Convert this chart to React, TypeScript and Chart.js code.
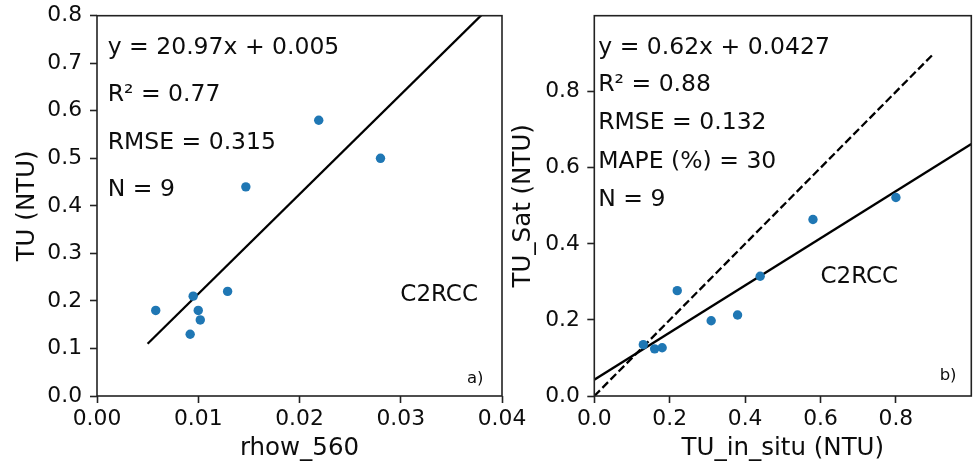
import React, { useEffect, useRef } from "react";
import { Chart, registerables } from "chart.js";

Chart.register(...registerables);

// ---------- Panel a) data ----------
const rhow560 = [0.0058, 0.0095, 0.01, 0.0102, 0.0092, 0.0129, 0.0147, 0.0219, 0.028];
const tuMeasured = [0.18, 0.21, 0.18, 0.16, 0.13, 0.22, 0.44, 0.58, 0.5];
const fitASlope = 20.97;
const fitAIntercept = 0.005;
const fitARange = [0.005, 0.04];
const aXTicks = [0, 0.01, 0.02, 0.03, 0.04];
const aYTicks = [0, 0.1, 0.2, 0.3, 0.4, 0.5, 0.6, 0.7, 0.8];
const aStats = ["y = 20.97x + 0.005", "R² = 0.77", "RMSE = 0.315", "N = 9"];

// ---------- Panel b) data ----------
const tuInSitu = [0.13, 0.16, 0.18, 0.22, 0.31, 0.38, 0.44, 0.58, 0.8];
const tuSat = [0.135, 0.124, 0.127, 0.277, 0.198, 0.213, 0.315, 0.464, 0.522];
const fitBSlope = 0.62;
const fitBIntercept = 0.0427;
const fitBRange = [0, 1.0];
const oneToOneRange = [0, 0.9];
const bTicks = [0, 0.2, 0.4, 0.6, 0.8];
const bStats = ["y = 0.62x + 0.0427", "R² = 0.88", "RMSE = 0.132", "MAPE (%) = 30", "N = 9"];

const FONT = '"DejaVu Sans", "Liberation Sans", sans-serif';
const INK = "#0d0d0d";
const DOT = "#1f77b4";

type TextItem = { text: string; fx: number; fy: number; size: number };

function makeTextPlugin(id: string, items: TextItem[]) {
  return {
    id,
    afterDraw(chart: any) {
      const { ctx, chartArea: a } = chart;
      const w = a.right - a.left;
      const h = a.bottom - a.top;
      ctx.save();
      // frame
      ctx.strokeStyle = "#222";
      ctx.lineWidth = 1.6;
      ctx.strokeRect(a.left, a.top, w, h);
      // texts
      ctx.fillStyle = INK;
      ctx.textBaseline = "middle";
      ctx.textAlign = "left";
      for (const it of items) {
        ctx.font = `${it.size}px ${FONT}`;
        ctx.fillText(it.text, a.left + it.fx * w, a.top + it.fy * h);
      }
      ctx.restore();
    },
  };
}

function axis(opts: {
  min: number;
  max: number;
  ticks: number[];
  decimals: number;
  title: string;
  horizontal: boolean;
  size: number;
  titlePad: any;
  tickPad: number;
}) {
  return {
    type: "linear",
    min: opts.min,
    max: opts.max,
    afterBuildTicks: (s: any) => {
      s.ticks = opts.ticks.map((v) => ({ value: v }));
    },
    afterFit: (s: any) => {
      if (opts.horizontal) s.height = opts.size;
      else s.width = opts.size;
      s.paddingLeft = 0;
      s.paddingRight = 0;
      s.paddingTop = 0;
      s.paddingBottom = 0;
    },
    grid: {
      drawOnChartArea: false,
      drawTicks: true,
      tickLength: 7,
      tickWidth: 1.6,
      tickColor: "#222",
    },
    border: { display: false },
    ticks: {
      color: INK,
      font: { family: FONT, size: 21.8 },
      padding: opts.tickPad,
      maxRotation: 0,
      autoSkip: false,
      callback: (v: any) => Number(v).toFixed(opts.decimals),
    },
    title: {
      display: true,
      text: opts.title,
      color: INK,
      font: { family: FONT, size: 24.5 },
      padding: opts.titlePad,
    },
  };
}

function lineData(range: number[], slope: number, intercept: number) {
  return range.map((x) => ({ x, y: slope * x + intercept }));
}

export default function App() {
  const refA = useRef<HTMLCanvasElement | null>(null);
  const refB = useRef<HTMLCanvasElement | null>(null);

  useEffect(() => {
    const common = {
      responsive: false,
      maintainAspectRatio: false,
      animation: false,
      events: [],
      plugins: { legend: { display: false }, tooltip: { enabled: false } },
    };

    const chartA = new Chart(refA.current as HTMLCanvasElement, {
      type: "scatter",
      data: {
        datasets: [
          {
            data: rhow560.map((x, i) => ({ x, y: tuMeasured[i] })),
            backgroundColor: DOT,
            borderWidth: 0,
            pointRadius: 4.7,
          },
          {
            data: lineData(fitARange, fitASlope, fitAIntercept),
            showLine: true,
            borderColor: "#000",
            borderWidth: 2.3,
            pointRadius: 0,
          },
        ],
      },
      options: {
        ...common,
        layout: { padding: { left: 0, right: 38, top: 15.7, bottom: 0 } },
        scales: {
          x: axis({
            min: 0,
            max: 0.04,
            ticks: aXTicks,
            decimals: 2,
            title: "rhow_560",
            horizontal: true,
            size: 69,
            titlePad: { top: 0, bottom: 2 },
            tickPad: 3,
          }),
          y: axis({
            min: 0,
            max: 0.8,
            ticks: aYTicks,
            decimals: 1,
            title: "TU (NTU)",
            horizontal: false,
            size: 97,
            titlePad: { top: 13, bottom: 0 },
            tickPad: 8,
          }),
        },
      } as any,
      plugins: [
        makeTextPlugin("textA", [
          { text: aStats[0], fx: 0.0264, fy: 0.0855, size: 23.5 },
          { text: aStats[1], fx: 0.0264, fy: 0.208, size: 23.5 },
          { text: aStats[2], fx: 0.0264, fy: 0.335, size: 23.5 },
          { text: aStats[3], fx: 0.0264, fy: 0.458, size: 23.5 },
          { text: "C2RCC", fx: 0.749, fy: 0.734, size: 23 },
          { text: "a)", fx: 0.9135, fy: 0.955, size: 16.5 },
        ]),
      ],
    } as any);

    const chartB = new Chart(refB.current as HTMLCanvasElement, {
      type: "scatter",
      data: {
        datasets: [
          {
            data: tuInSitu.map((x, i) => ({ x, y: tuSat[i] })),
            backgroundColor: DOT,
            borderWidth: 0,
            pointRadius: 4.7,
          },
          {
            data: lineData(fitBRange, fitBSlope, fitBIntercept),
            showLine: true,
            borderColor: "#000",
            borderWidth: 2.3,
            pointRadius: 0,
          },
          {
            data: lineData(oneToOneRange, 1, 0),
            showLine: true,
            borderColor: "#000",
            borderWidth: 2.3,
            borderDash: [8, 3.5],
            pointRadius: 0,
          },
        ],
      },
      options: {
        ...common,
        layout: { padding: { left: 0, right: 1, top: 15.7, bottom: 0 } },
        scales: {
          x: axis({
            min: 0,
            max: 1.0,
            ticks: bTicks,
            decimals: 1,
            title: "TU_in_situ (NTU)",
            horizontal: true,
            size: 69,
            titlePad: { top: 0, bottom: 2 },
            tickPad: 3,
          }),
          y: axis({
            min: 0,
            max: 1.0,
            ticks: bTicks,
            decimals: 1,
            title: "TU_Sat (NTU)",
            horizontal: false,
            size: 104.3,
            titlePad: { top: 19.2, bottom: 0 },
            tickPad: 7.5,
          }),
        },
      } as any,
      plugins: [
        makeTextPlugin("textB", [
          { text: bStats[0], fx: 0.0105, fy: 0.0855, size: 23.5 },
          { text: bStats[1], fx: 0.0105, fy: 0.1817, size: 23.5 },
          { text: bStats[2], fx: 0.0105, fy: 0.2827, size: 23.5 },
          { text: bStats[3], fx: 0.0105, fy: 0.3834, size: 23.5 },
          { text: bStats[4], fx: 0.0105, fy: 0.4841, size: 23.5 },
          { text: "C2RCC", fx: 0.6, fy: 0.686, size: 23 },
          { text: "b)", fx: 0.916, fy: 0.947, size: 16.5 },
        ]),
      ],
    } as any);

    return () => {
      chartA.destroy();
      chartB.destroy();
    };
  }, []);

  return (
    <div
      style={{
        position: "absolute",
        left: 0,
        top: 0,
        width: 976,
        height: 465,
        background: "#fff",
        overflow: "hidden",
      }}
    >
      <canvas
        ref={refB}
        width={486}
        height={465}
        style={{ position: "absolute", left: 490, top: 0 }}
      />
      <canvas
        ref={refA}
        width={540}
        height={465}
        style={{ position: "absolute", left: 0, top: 0 }}
      />
    </div>
  );
}
